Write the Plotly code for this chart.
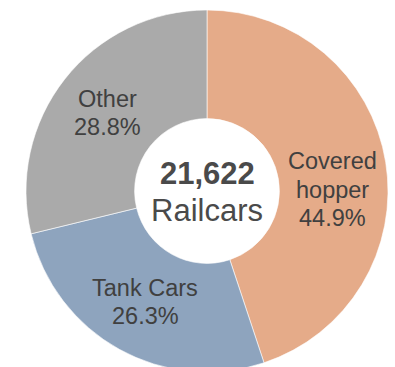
import plotly.graph_objects as go

categories = ["Covered hopper", "Tank Cars", "Other"]
shares = [44.9, 26.3, 28.8]
colors = ["#E5AB89", "#8EA4BE", "#AAAAAA"]
total_railcars = "21,622"

W, H = 395, 372
TEXT = "#404040"
CENTER_TEXT = "#4A4A4A"
FONT = "Liberation Sans, Arial, sans-serif"

fig = go.Figure(go.Pie(
    labels=categories, values=shares, sort=False, direction="clockwise",
    hole=0.40, textinfo="none", hoverinfo="label+percent",
    marker=dict(colors=colors, line=dict(color="white", width=0.6)),
    domain=dict(x=[26 / W, 388 / W], y=[0, 1 - 10 / H]),
    showlegend=False,
))

def px(x, y):
    return x / W, 1 - y / H

label_lines = [
    ("Other", 107, 98.7), ("28.8%", 107, 127),
    ("Covered", 332, 161.5), ("hopper", 332, 190), ("44.9%", 332, 218),
    ("Tank Cars", 145, 288), ("26.3%", 145, 315.5),
]
anns = []
for t, x, y in label_lines:
    ax, ay = px(x, y)
    anns.append(dict(text=t, x=ax, y=ay, xref="paper", yref="paper",
                     xanchor="center", yanchor="middle", showarrow=False,
                     font=dict(family=FONT, size=23.5, color=TEXT)))
cx, cy = px(207, 173.5)
anns.append(dict(text="<b>%s</b>" % total_railcars, x=cx, y=cy, xref="paper", yref="paper",
                 xanchor="center", yanchor="middle", showarrow=False,
                 font=dict(family=FONT, size=31, color=CENTER_TEXT)))
cx, cy = px(207, 210.5)
anns.append(dict(text="Railcars", x=cx, y=cy, xref="paper", yref="paper",
                 xanchor="center", yanchor="middle", showarrow=False,
                 font=dict(family=FONT, size=31, color=CENTER_TEXT)))

fig.update_layout(width=W, height=H, margin=dict(l=0, r=0, t=0, b=0),
                  paper_bgcolor="white", plot_bgcolor="white", annotations=anns)
fig.write_html("out.html",
               post_script="document.documentElement.style.overflow='hidden';document.body.style.overflow='hidden';document.body.style.margin='0';")
